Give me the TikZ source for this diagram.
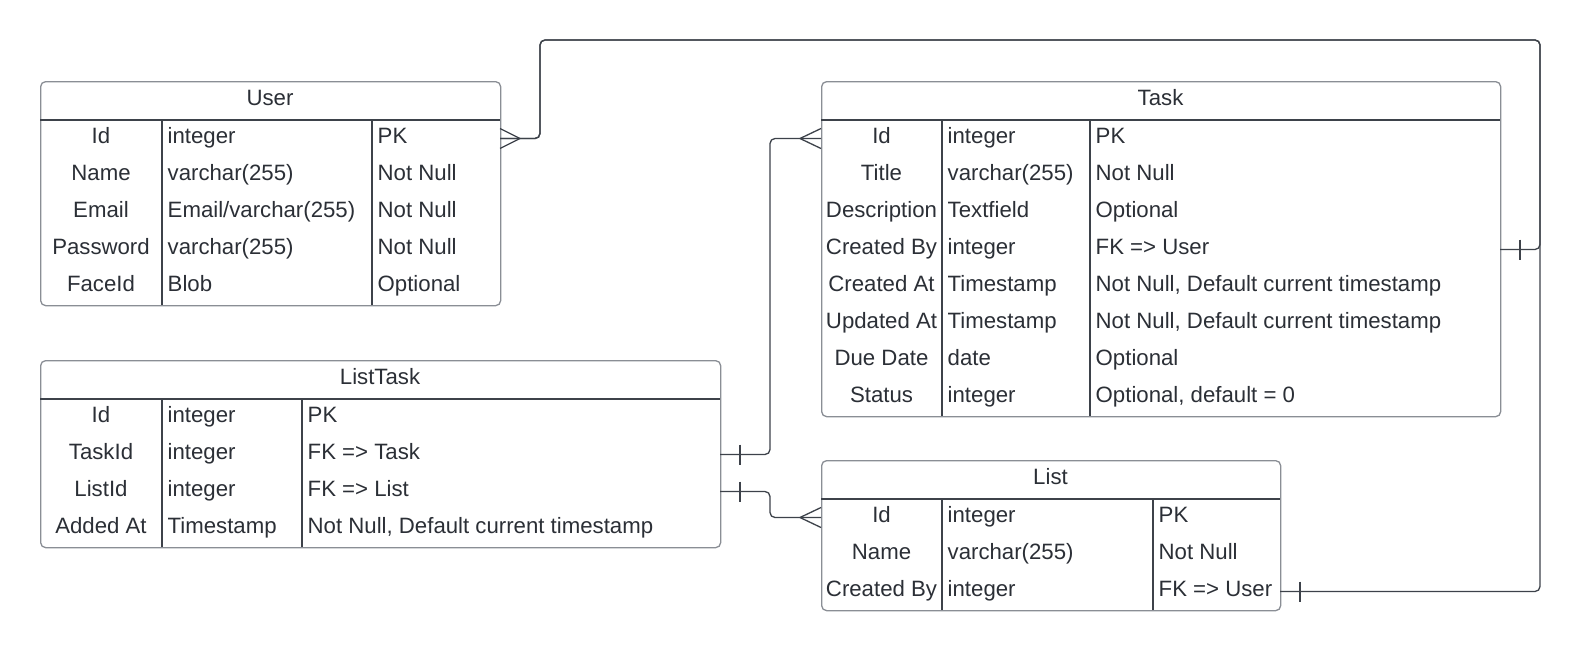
\documentclass[tikz,border=0pt]{standalone}
\usepackage{fontspec}
\setmainfont{Liberation Sans}
\usetikzlibrary{calc}
\definecolor{boxgray}{HTML}{8A8E95}
\definecolor{linedark}{HTML}{3D424A}
\definecolor{txtdark}{HTML}{2B2F36}
\tikzset{
  tablebox/.style={draw=boxgray, line width=1.3pt, rounded corners=5pt, fill=white},
  innerline/.style={draw=linedark, line width=1.1pt},
  conn/.style={draw=linedark, line width=1.3pt, rounded corners=5pt},
  mark line/.style={draw=linedark, line width=1.3pt},
  txt/.style={text=txtdark, font=\fontsize{22.2}{25}\selectfont, inner sep=0pt},
}
% table parameters: name, x1, c1, c2, x2, top, nrows, title
\newcommand\ertable[8]{%
  \def\ername{#1}\def\erxa{#2}\def\erca{#3}\def\ercb{#4}\def\erxb{#5}\def\ertop{#6}%
  \pgfmathsetmacro\erhead{#6+39}%
  \pgfmathsetmacro\erbot{#6+39+37*#7}%
  \pgfmathsetmacro\erw{#5-#2}%
  \pgfmathsetmacro\erh{39+37*#7}%
  \node[tablebox, anchor=north west, minimum width=\erw pt, minimum height=\erh pt, inner sep=0pt] (#1) at (#2,#6) {};
  \draw[innerline] (#2,\erhead) -- (#5,\erhead);
  \draw[innerline] (#3,\erhead) -- (#3,\erbot);
  \draw[innerline] (#4,\erhead) -- (#4,\erbot);
  \node[txt, anchor=base] (#1-title) at ({(#2+#5)/2},{#6+24}) {#8};
}
% row: index, col1, col2, col3
\newcommand\errow[4]{%
  \pgfmathsetmacro\ercen{\erhead+18.5+37*#1}%
  \pgfmathsetmacro\erbase{\ercen+5.2}%
  \coordinate (\ername-r#1-w) at (\erxa,\ercen);
  \coordinate (\ername-r#1-e) at (\erxb,\ercen);
  \node[txt, anchor=base] (\ername-r#1-a) at ({(\erxa+\erca)/2},\erbase) {#2};
  \node[txt, anchor=base west] (\ername-r#1-b) at ({\erca+5.5},\erbase) {#3};
  \node[txt, anchor=base west] (\ername-r#1-c) at ({\ercb+5.5},\erbase) {#4};
}
\begin{document}
\begin{tikzpicture}[x=1pt,y=-1pt]
\useasboundingbox[fill=white] (0,0) rectangle (1581,651);

\coordinate (topleft) at (540,40);
\coordinate (topright) at (1540,40);

% User table
\ertable{user}{40}{162}{372}{500}{81}{5}{User}
\errow{0}{Id}{integer}{PK}
\errow{1}{Name}{varchar(255)}{Not Null}
\errow{2}{Email}{Email/varchar(255)}{Not Null}
\errow{3}{Password}{varchar(255)}{Not Null}
\errow{4}{FaceId}{Blob}{Optional}

% Task table
\ertable{task}{821}{942}{1090}{1500}{81}{8}{Task}
\errow{0}{Id}{integer}{PK}
\errow{1}{Title}{varchar(255)}{Not Null}
\errow{2}{Description}{Textfield}{Optional}
\errow{3}{Created By}{integer}{FK => User}
\errow{4}{Created At}{Timestamp}{Not Null, Default current timestamp}
\errow{5}{Updated At}{Timestamp}{Not Null, Default current timestamp}
\errow{6}{Due Date}{date}{Optional}
\errow{7}{Status}{integer}{Optional, default = 0}

% ListTask table
\ertable{lt}{40}{162}{302}{720}{360}{4}{ListTask}
\errow{0}{Id}{integer}{PK}
\errow{1}{TaskId}{integer}{FK => Task}
\errow{2}{ListId}{integer}{FK => List}
\errow{3}{Added At}{Timestamp}{Not Null, Default current timestamp}

% List table
\ertable{list}{821}{942}{1153}{1280}{460}{3}{List}
\errow{0}{Id}{integer}{PK}
\errow{1}{Name}{varchar(255)}{Not Null}
\errow{2}{Created By}{integer}{FK => User}

% Connector: User.Id -> Task.Created By
\draw[conn] (user-r0-e) -| (topleft) -| ($(task-r3-e)+(40,0)$) -- (task-r3-e);
% Connector: List.Created By -> User.Id
\draw[conn] (list-r2-e) -| (topright) -| ($(user-r0-e)+(40,0)$) -- (user-r0-e);
% Connector: ListTask.TaskId -> Task.Id
\draw[conn] (lt-r1-e) -- ++(50,0) |- (task-r0-w);
% Connector: ListTask.ListId -> List.Id
\draw[conn] (lt-r2-e) -- ++(50,0) |- (list-r0-w);

% crow's feet (many)
\draw[mark line] ($(user-r0-e)+(0,-10)$) -- ($(user-r0-e)+(20,0)$) -- ($(user-r0-e)+(0,10)$);
\draw[mark line] ($(task-r0-w)+(0,-10)$) -- ($(task-r0-w)+(-21,0)$) -- ($(task-r0-w)+(0,10)$);
\draw[mark line] ($(list-r0-w)+(0,-10)$) -- ($(list-r0-w)+(-21,0)$) -- ($(list-r0-w)+(0,10)$);
% single bars (one)
\draw[mark line] ($(task-r3-e)+(20,-10)$) -- ($(task-r3-e)+(20,10)$);
\draw[mark line] ($(list-r2-e)+(20,-10)$) -- ($(list-r2-e)+(20,10)$);
\draw[mark line] ($(lt-r1-e)+(20,-10)$) -- ($(lt-r1-e)+(20,10)$);
\draw[mark line] ($(lt-r2-e)+(20,-10)$) -- ($(lt-r2-e)+(20,10)$);
\end{tikzpicture}
\end{document}
